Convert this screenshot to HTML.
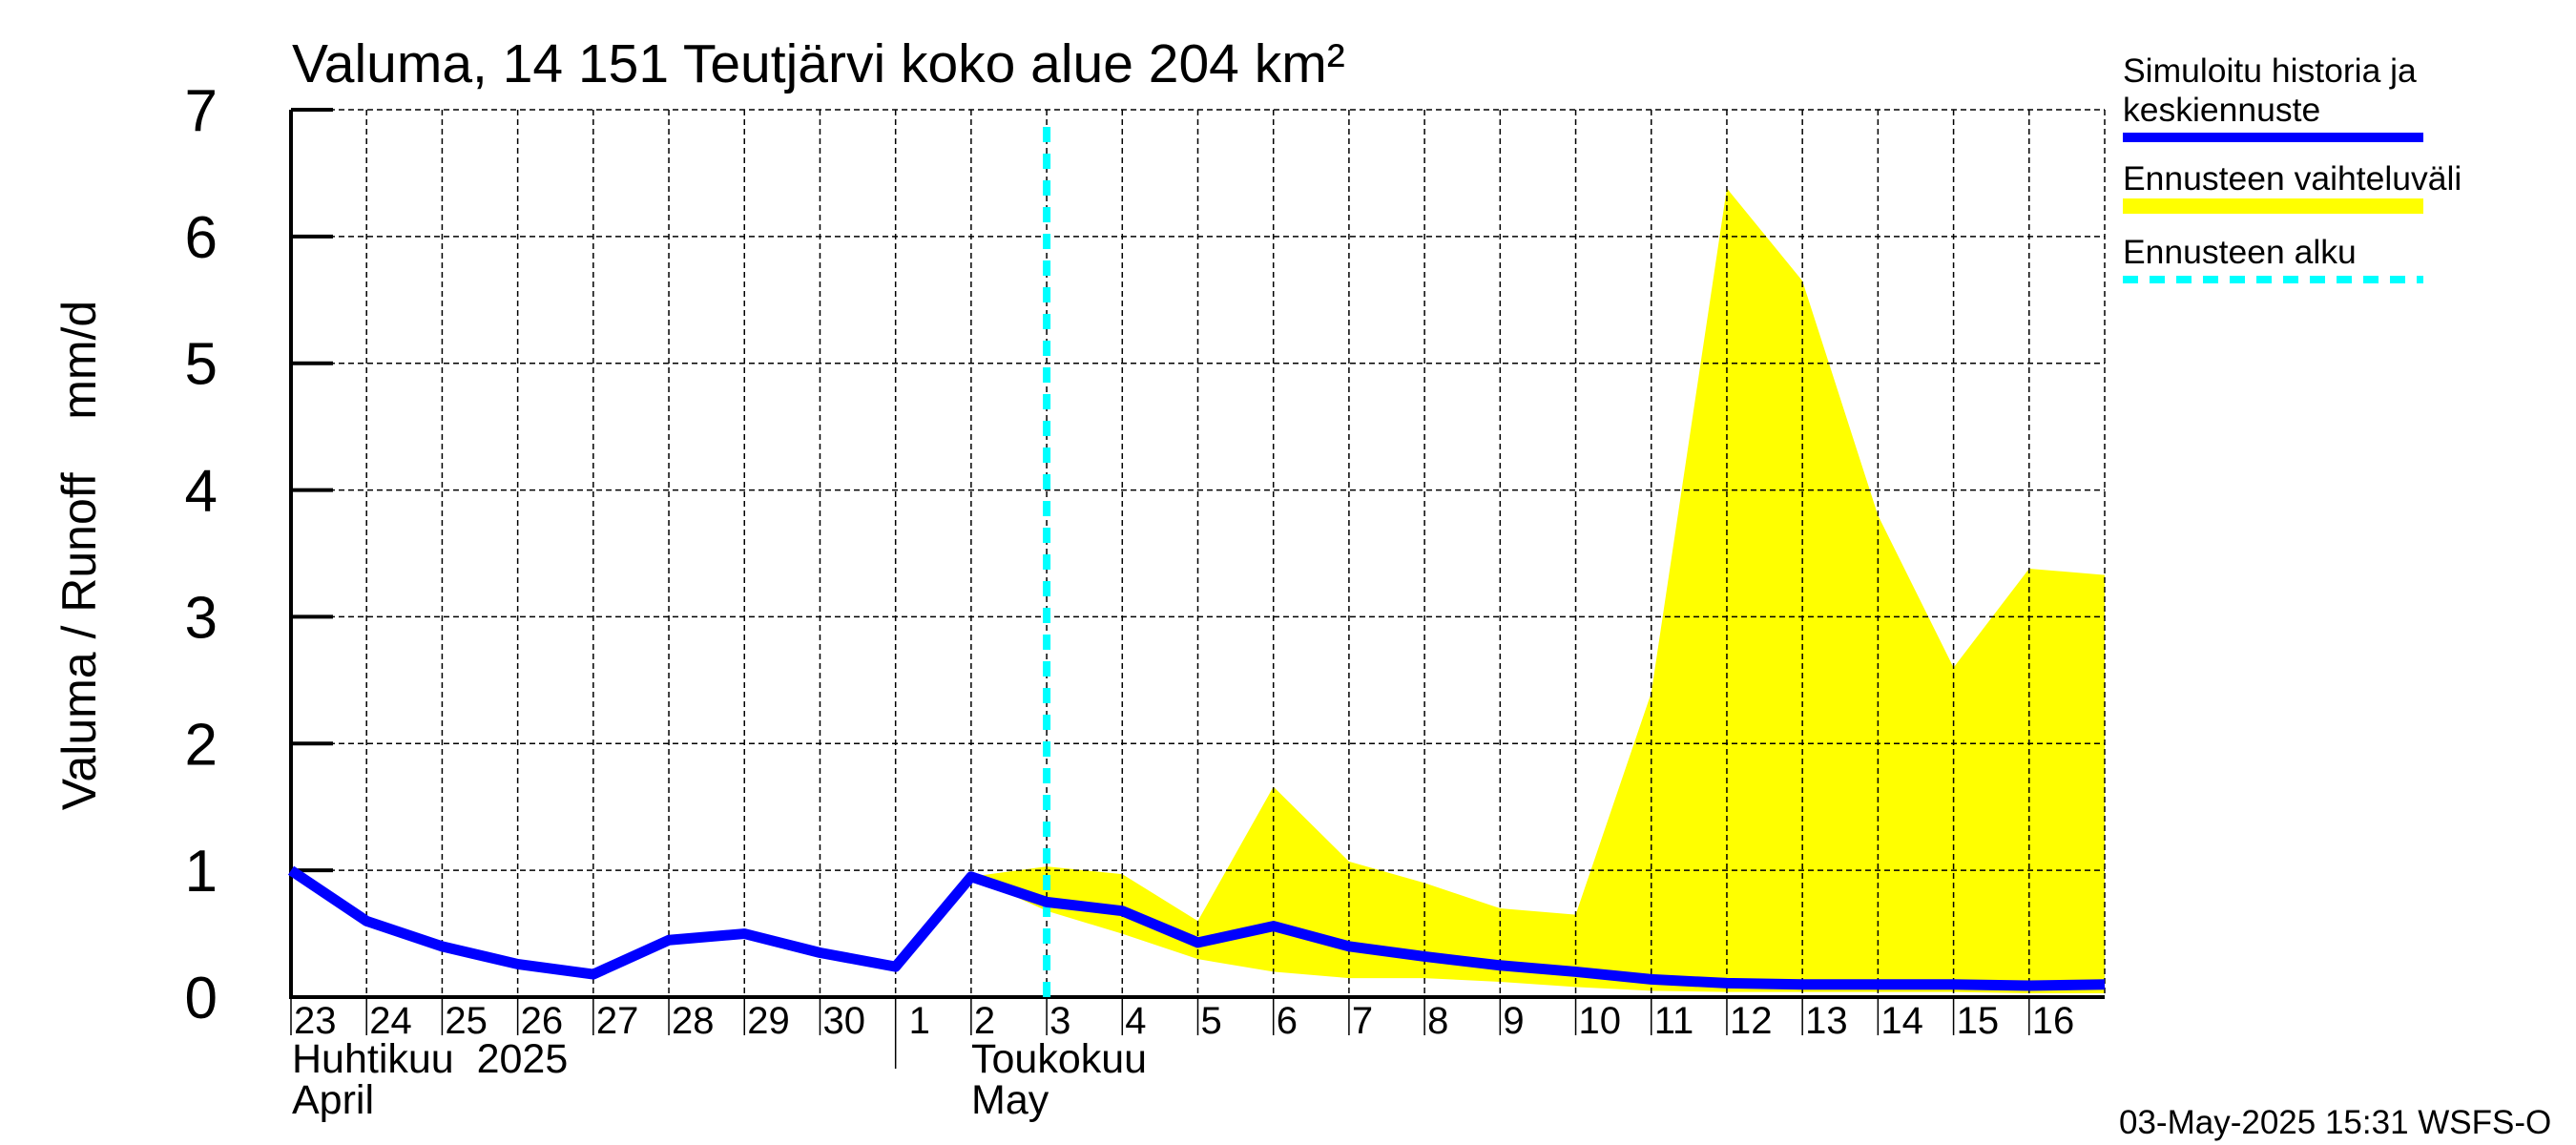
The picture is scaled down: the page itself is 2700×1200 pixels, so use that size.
<!DOCTYPE html>
<html><head><meta charset="utf-8"><style>
html,body{margin:0;padding:0;background:#fff}
svg{display:block;font-family:"Liberation Sans",sans-serif}
</style></head><body>
<svg id="chart" width="2700" height="1200" viewBox="0 0 2700 1200" xmlns="http://www.w3.org/2000/svg">
<rect width="2700" height="1200" fill="#fff"/>
<text x="306" y="86" font-size="57">Valuma, 14 151 Teutjärvi koko alue 204 km²</text>
<g id="band"></g>
<g id="grid"></g>
<g id="axes"></g>
<g id="series"></g>
<text transform="translate(100,582) rotate(-90)" text-anchor="middle" font-size="50" xml:space="preserve">Valuma / Runoff    mm/d</text>
<text x="306" y="1124" font-size="43" xml:space="preserve">Huhtikuu  2025</text>
<text x="306" y="1167" font-size="43">April</text>
<text x="1018" y="1124" font-size="43">Toukokuu</text>
<text x="1018" y="1167" font-size="43">May</text>
<text x="2221" y="1188" font-size="35">03-May-2025 15:31 WSFS-O</text>
<g>
<text x="2225" y="86" font-size="35.5">Simuloitu historia ja</text>
<text x="2225" y="127" font-size="35.5">keskiennuste</text>
<line x1="2225" y1="144" x2="2540" y2="144" stroke="#0000ff" stroke-width="10"/>
<text x="2225" y="199" font-size="35.5">Ennusteen vaihteluväli</text>
<line x1="2225" y1="216" x2="2540" y2="216" stroke="#ffff00" stroke-width="16"/>
<text x="2225" y="276" font-size="35.5">Ennusteen alku</text>
<line x1="2225" y1="293" x2="2540" y2="293" stroke="#00ffff" stroke-width="8" stroke-dasharray="16,12"/>
</g>
</svg>
<script>
const dayLabels=["23","24","25","26","27","28","29","30","1","2","3","4","5","6","7","8","9","10","11","12","13","14","15","16"];
const yTicks=[0,1,2,3,4,5,6,7];
const simulated=[1.0,0.6,0.4,0.26,0.18,0.45,0.5,0.35,0.24,0.95,0.75,0.68,0.43,0.56,0.4,0.32,0.25,0.2,0.14,0.11,0.1,0.1,0.1,0.09,0.1];
const bandStart=9;
const bandUpper=[0.95,1.03,0.97,0.6,1.66,1.07,0.9,0.7,0.65,2.4,6.38,5.65,3.8,2.6,3.38,3.33];
const bandLower=[0.95,0.68,0.5,0.3,0.2,0.15,0.15,0.12,0.08,0.05,0.04,0.04,0.04,0.04,0.03,0.03];
const forecastStartDay=10;
const monthBreakDay=8;

const L=305,R=2206,T=115,B=1045,nDays=24,yMax=7;
const NS="http://www.w3.org/2000/svg";
const xS=d=>L+(R-L)*d/nDays;
const yS=v=>B-(B-T)*v/yMax;
function mk(tag,attrs,parent){const e=document.createElementNS(NS,tag);for(const k in attrs)e.setAttribute(k,attrs[k]);parent.appendChild(e);return e;}
const grid=document.getElementById('grid'),axes=document.getElementById('axes'),series=document.getElementById('series'),band=document.getElementById('band');

let pts=[];
bandUpper.forEach((v,i)=>pts.push(xS(bandStart+i)+','+yS(v)));
for(let i=bandLower.length-1;i>=0;i--)pts.push(xS(bandStart+i)+','+yS(bandLower[i]));
const poly=mk('polygon',{points:pts.join(' '),fill:'#ffff00'},band);



yTicks.forEach(v=>{
  if(v>0){const g=mk('line',{x1:L,x2:R,y1:yS(v),y2:yS(v),stroke:'#000','stroke-width':1.5,'stroke-dasharray':'6,4'},grid);
  
  }
  const t=mk('line',{x1:L,x2:L+44,y1:yS(v),y2:yS(v),stroke:'#000','stroke-width':4},axes);
  
  
  const tx=mk('text',{x:228,y:yS(v)+22,'text-anchor':'end','font-size':62},axes);
  tx.textContent=v;
  
  
});
for(let d=1;d<=nDays;d++){
  const g=mk('line',{x1:xS(d),x2:xS(d),y1:T,y2:B,stroke:'#000','stroke-width':1.5,'stroke-dasharray':'6,4'},grid);
  
  
}
dayLabels.forEach((s,d)=>{
  const len=(d===monthBreakDay)?75:40;
  const t=mk('line',{x1:xS(d),x2:xS(d),y1:B,y2:B+len,stroke:'#000','stroke-width':1.5},axes);
  
  
  const tx=mk('text',{x:xS(d)+(d===monthBreakDay?14:3),y:1083,'font-size':40},axes);
  tx.textContent=s;
  
  
});
const ax=mk('path',{d:`M${L},${T} L${L},${B} L${R},${B}`,fill:'none',stroke:'#000','stroke-width':4},axes);



const fs=mk('line',{x1:xS(forecastStartDay),x2:xS(forecastStartDay),y1:B,y2:T+8,stroke:'#00ffff','stroke-width':8,'stroke-dasharray':'16,12'},series);



const sp=simulated.map((v,i)=>xS(i)+','+yS(v)).join(' ');
const pl=mk('polyline',{points:sp,fill:'none',stroke:'#0000ff','stroke-width':11,'stroke-linejoin':'round'},series);


</script>
</body></html>
